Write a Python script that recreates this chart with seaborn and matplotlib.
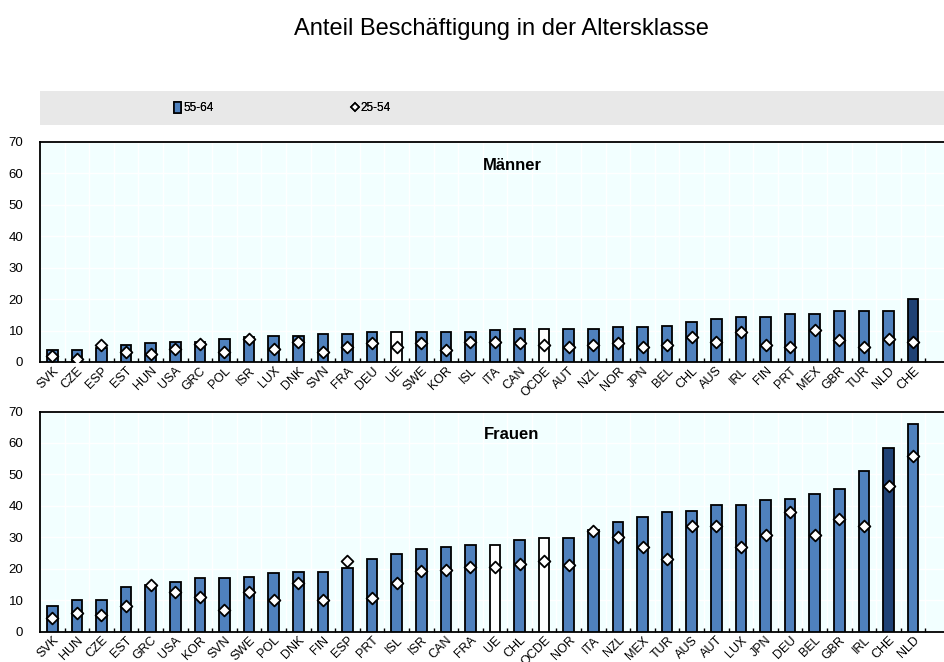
import numpy as np
import pandas as pd
import matplotlib
matplotlib.use("Agg")
import matplotlib.pyplot as plt
from matplotlib.patches import Rectangle, Patch
from matplotlib.lines import Line2D
import seaborn as sns

men_countries = ["SVK","CZE","ESP","EST","HUN","USA","GRC","POL","ISR","LUX","DNK","SVN","FRA","DEU","UE","SWE","KOR","ISL","ITA","CAN","OCDE","AUT","NZL","NOR","JPN","BEL","CHL","AUS","IRL","FIN","PRT","MEX","GBR","TUR","NLD","CHE"]
men_5564 = [3.7,3.7,4.3,5.3,5.9,6.4,6.4,7.4,8.0,8.4,8.4,9.0,9.0,9.6,9.6,9.6,9.6,9.6,10.1,10.4,10.4,10.4,10.4,11.0,11.0,11.5,12.7,13.7,14.2,14.2,15.3,15.3,16.3,16.3,16.3,20.0]
men_2554 = [1.9,1.0,5.3,3.2,2.5,4.2,5.8,3.1,7.4,4.2,6.3,3.2,4.8,5.9,4.8,5.9,3.7,6.4,6.4,5.9,5.3,4.8,5.3,5.9,4.8,5.3,8.0,6.4,9.5,5.3,4.8,10.1,6.9,4.8,7.4,6.4]

women_countries = ["SVK","HUN","CZE","EST","GRC","USA","KOR","SVN","SWE","POL","DNK","FIN","ESP","PRT","ISL","ISR","CAN","FRA","UE","CHL","OCDE","NOR","ITA","NZL","MEX","TUR","AUS","AUT","LUX","JPN","DEU","BEL","GBR","IRL","CHE","NLD"]
women_5564 = [8.1,10.1,10.1,14.3,14.8,15.9,17.0,17.0,17.5,18.5,19.0,19.0,20.1,23.2,24.8,26.4,26.9,27.5,27.5,29.1,29.6,29.6,32.3,34.9,36.4,38.0,38.5,40.1,40.1,41.7,42.2,43.8,45.3,51.1,58.5,66.0]
women_2554 = [4.3,5.8,5.2,8.0,14.7,12.6,11.1,6.9,12.6,10.1,15.3,10.1,22.3,10.6,15.3,19.1,19.6,20.6,20.6,21.6,22.3,21.1,32.1,30.1,26.9,23.2,33.7,33.7,26.9,30.6,38.0,30.6,35.8,33.7,46.4,55.9]

panel_titles = ["Männer", "Frauen"]
title = "Anteil Beschäftigung in der Altersklasse"
legend_labels = ["55-64", "25-54"]

BLUE = "#4F81BD"
DARK = "#1F4275"
BG = "#F2FFFF"

def bar_color(c):
    if c in ("UE", "OCDE"):
        return "white"
    if c == "CHE":
        return DARK
    return BLUE

W, H = 944, 662
fig = plt.figure(figsize=(W/100, H/100), dpi=100)
plt.rcParams['font.family'] = ['Liberation Sans', 'DejaVu Sans']

narrow = ['Liberation Sans Narrow', 'Liberation Sans', 'DejaVu Sans']

def make_axes(top_px, bottom_px):
    return fig.add_axes([40/W, 1 - bottom_px/H, 910/W, (bottom_px - top_px)/H])

axes = [make_axes(142, 362), make_axes(411.5, 631.5)]
data = [(men_countries, men_5564, men_2554), (women_countries, women_5564, women_2554)]

for ax, (cs, v1, v2), pt in zip(axes, data, panel_titles):
    df = pd.DataFrame({"country": cs, "v5564": v1, "v2554": v2})
    ax.set_facecolor(BG)
    pal = {c: bar_color(c) for c in cs}
    sns.barplot(data=df, x="country", y="v5564", hue="country", palette=pal,
                legend=False, width=0.43, edgecolor="black", linewidth=1.3,
                saturation=1, ax=ax, zorder=3)
    sns.stripplot(data=df, x="country", y="v2554", marker="D", size=6,
                  color="white", edgecolor="black", linewidth=1.3, jitter=False,
                  ax=ax, zorder=4)
    ax.set_xlim(-0.5, 36.5)
    ax.set_ylim(0, 70)
    ax.set_yticks(range(0, 71, 10))
    ax.set_xticks(np.arange(len(cs)) + 0.5, minor=True)
    ax.set_xticks(np.arange(len(cs)))
    ax.set_xticklabels(cs, rotation=45, ha="right", rotation_mode="anchor",
                       family=narrow, fontsize=9)
    ax.tick_params(axis="x", which="major", length=0, pad=2)
    ax.tick_params(axis="x", which="minor", direction="in", length=3, width=1, color="black")
    ax.tick_params(axis="y", length=0, pad=12, labelsize=9.5)
    for lab in ax.get_yticklabels():
        lab.set_family(narrow)
    ax.grid(True, axis="y", which="major", color="white", linewidth=1, zorder=0)
    ax.grid(True, axis="x", which="minor", color="white", linewidth=1, zorder=0)
    ax.set_axisbelow(True)
    ax.set_xlabel("")
    ax.set_ylabel("")
    for s in ["top", "left", "bottom"]:
        ax.spines[s].set_color("black")
        ax.spines[s].set_linewidth(1.3)
    ax.spines["right"].set_visible(False)
    ax.text((512-40)/910, 0.895, pt, transform=ax.transAxes, ha="center", va="center",
            fontsize=12, fontweight="bold")

# title
fig.text(501/W, 1 - 29/H, title, ha="center", va="center", fontsize=17)

# legend band
fig.patches.append(Rectangle((40/W, 1 - 125/H), 904/W, 34/H, transform=fig.transFigure,
                             facecolor="#E8E8E8", edgecolor="none", zorder=0))
h1 = Patch(facecolor=BLUE, edgecolor="black", linewidth=1.2)
h2 = Line2D([], [], marker="D", linestyle="none", markersize=4.5, markerfacecolor="white",
            markeredgecolor="black", markeredgewidth=1.2)
for h, lab, xpx in [(h1, legend_labels[0], 174), (h2, legend_labels[1], 351)]:
    lg = fig.legend([h], [lab], loc="center left", bbox_to_anchor=(xpx/W, 1 - 108/H),
                    frameon=False, handlelength=0.6, handleheight=1.1, handletextpad=0.2,
                    borderpad=0, borderaxespad=0, prop={"family": narrow, "size": 8.5})
    fig.add_artist(lg)

fig.savefig("out.png", dpi=100)
